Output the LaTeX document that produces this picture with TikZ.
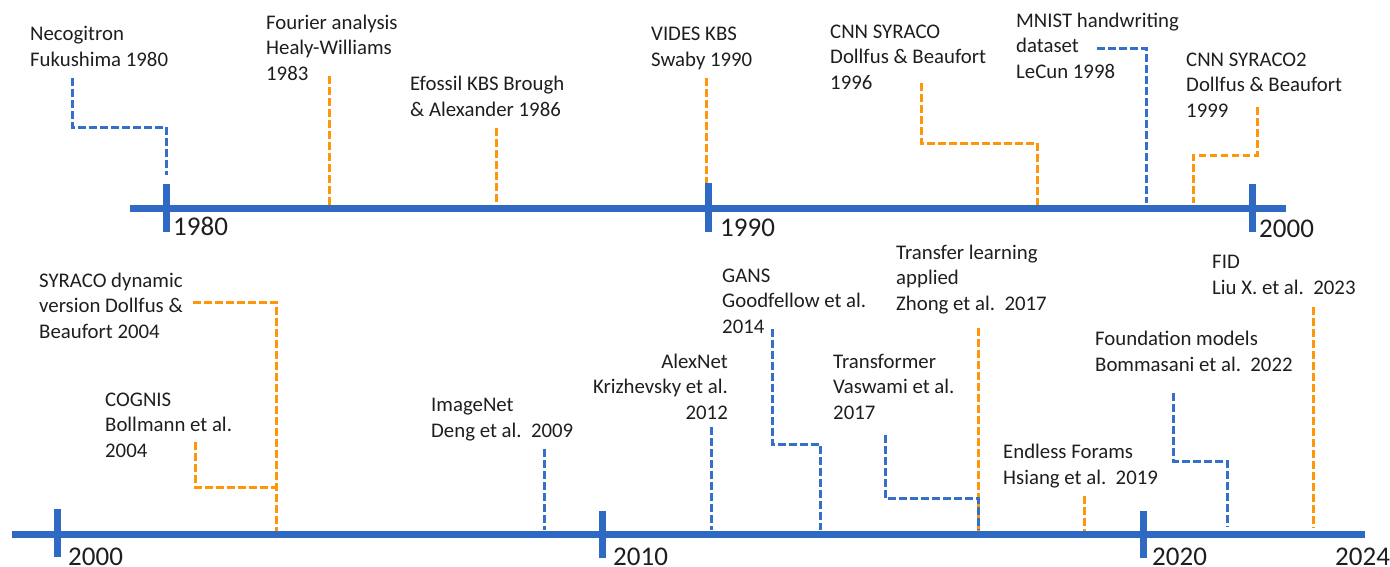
\documentclass[tikz,border=0pt]{standalone}
\usepackage{fontspec}
\setmainfont{Carlito}
\definecolor{axisblue}{RGB}{46,106,196}
\definecolor{evblue}{RGB}{52,112,202}
\definecolor{evorange}{RGB}{255,150,10}
\definecolor{ink}{RGB}{30,30,30}

\begin{document}
\begin{tikzpicture}[x=1pt,y=-1pt,
  axis/.style={line width=7pt, axisblue},
  yeartick/.style={line width=7pt, axisblue},
  bluelink/.style={evblue, line width=3pt, dash pattern=on 7.5pt off 3.5pt},
  orangelink/.style={evorange, line width=3pt, dash pattern=on 7.5pt off 3.5pt},
  % multi-line labels are placed by the baseline of their last line
  event/.style={anchor=base west, align=left, inner sep=0pt, text=ink,
    font=\fontsize{20.8}{25.5}\selectfont},
  eventr/.style={event, anchor=base east, align=right},
  year/.style={anchor=base west, inner sep=0pt, text=ink,
    font=\fontsize{27}{30}\selectfont}]
\useasboundingbox (0,0) rectangle (1390,566);

% ---------------- 1980 -- 2000 ----------------
\coordinate (a1s) at (130,208);
\coordinate (a1e) at (1286,208);
\coordinate (t80a) at (166,184);  \coordinate (t80b) at (166,232);
\coordinate (t90a) at (708,183);  \coordinate (t90b) at (708,232);
\coordinate (t00a) at (1252,184); \coordinate (t00b) at (1252,232);

\node[event] (neco) at (30,66) {Necogitron\\Fukushima 1980};
\node[event] (fourier) at (266,80) {Fourier analysis\\Healy-Williams\\1983};
\node[event] (efossil) at (410,116) {Efossil KBS Brough\\\& Alexander 1986};
\node[event] (vides) at (651,66) {VIDES KBS\\Swaby 1990};
\node[event] (syraco) at (830,89) {CNN SYRACO\\Dollfus \& Beaufort\\1996};
\node[event] (mnist) at (1016,78) {MNIST handwriting\\dataset\\LeCun 1998};
\node[event] (syraco2) at (1186,117) {CNN SYRACO2\\Dollfus \& Beaufort\\1999};

\coordinate (neco1) at (72,78);   \coordinate (neco2) at (166,127);  \coordinate (neco3) at (166,175);
\coordinate (four1) at (329,76);  \coordinate (four2) at (329,208);
\coordinate (efo1) at (496,128);  \coordinate (efo2) at (496,208);
\coordinate (vid1) at (706,78);   \coordinate (vid2) at (706,183);
\coordinate (syr1) at (921,83);   \coordinate (syr2) at (1037,143);  \coordinate (syr3) at (1037,208);
\coordinate (mni1) at (1097,48);  \coordinate (mni2) at (1146,48);   \coordinate (mni3) at (1146,203);
\coordinate (sy21) at (1257,107); \coordinate (sy22) at (1193,155);  \coordinate (sy23) at (1193,203);

\draw[bluelink] (neco1) |- (neco2) -- (neco3);
\draw[orangelink] (four1) -- (four2);
\draw[orangelink] (efo1) -- (efo2);
\draw[orangelink] (vid1) -- (vid2);
\draw[orangelink] (syr1) |- (syr2) -- (syr3);
\draw[bluelink] (mni1) -- (mni2) -- (mni3);
\draw[orangelink] (sy21) |- (sy22) -- (sy23);

\draw[axis] (a1s) -- (a1e);
\draw[yeartick] (t80a) -- (t80b);
\draw[yeartick] (t90a) -- (t90b);
\draw[yeartick] (t00a) -- (t00b);
\node[year] (y1980) at (173,235) {1980};
\node[year] (y1990) at (720,236) {1990};
\node[year] (y2000a) at (1259,237) {2000};

% ---------------- 2000 -- 2024 ----------------
\coordinate (a2s) at (12,534);
\coordinate (a2e) at (1365,534);
\coordinate (u00a) at (57,509);   \coordinate (u00b) at (57,557);
\coordinate (u10a) at (602,511);  \coordinate (u10b) at (602,558);
\coordinate (u20a) at (1143,511); \coordinate (u20b) at (1143,558);

\node[event] (dynamic) at (39,338) {SYRACO dynamic\\version Dollfus \&\\Beaufort 2004};
\node[event] (cognis) at (105,457) {COGNIS\\Bollmann et al.\\2004};
\node[event] (imagenet) at (431,437) {ImageNet\\Deng et al.\ \ 2009};
\node[eventr] (alexnet) at (728,419) {AlexNet\\Krizhevsky et al.\\2012};
\node[event] (gans) at (722,333) {GANS\\Goodfellow et al.\\2014};
\node[event] (transformer) at (833,419) {Transformer\\Vaswami et al.\\2017};
\node[event] (transfer) at (896,310) {Transfer learning\\applied\\Zhong et al.\ \ 2017};
\node[event] (endless) at (1003,484) {Endless Forams\\Hsiang et al.\ \ 2019};
\node[event] (foundation) at (1095,371) {Foundation models\\Bommasani et al.\ \ 2022};
\node[event] (fid) at (1212,294) {FID\\Liu X. et al.\ \ 2023};

\coordinate (dyn1) at (193,302);  \coordinate (dyn2) at (276,302);  \coordinate (dyn3) at (276,534);
\coordinate (cog1) at (195,442);  \coordinate (cog2) at (276,487);
\coordinate (img1) at (544,449);  \coordinate (img2) at (544,530);
\coordinate (alx1) at (711,427);  \coordinate (alx2) at (711,530);
\coordinate (gan1) at (772,329);  \coordinate (gan2) at (820,444);  \coordinate (gan3) at (820,530);
\coordinate (trf1) at (885,435);  \coordinate (trf2) at (978,498);  \coordinate (trf3) at (978,530);
\coordinate (tl1) at (978,328);   \coordinate (tl2) at (978,534);
\coordinate (end1) at (1084,496); \coordinate (end2) at (1084,532);
\coordinate (fnd1) at (1173,393); \coordinate (fnd2) at (1227,461); \coordinate (fnd3) at (1227,527);
\coordinate (fid1) at (1313,307); \coordinate (fid2) at (1313,528);

\draw[orangelink] (dyn1) -- (dyn2) -- (dyn3);
\draw[orangelink] (cog1) |- (cog2);
\draw[bluelink] (img1) -- (img2);
\draw[bluelink] (alx1) -- (alx2);
\draw[bluelink] (gan1) |- (gan2) -- (gan3);
\draw[orangelink] (tl1) -- (tl2);
\draw[bluelink] (trf1) |- (trf2) -- (trf3);
\draw[orangelink] (end1) -- (end2);
\draw[bluelink] (fnd1) |- (fnd2) -- (fnd3);
\draw[orangelink] (fid1) -- (fid2);

\draw[axis] (a2s) -- (a2e);
\draw[yeartick] (u00a) -- (u00b);
\draw[yeartick] (u10a) -- (u10b);
\draw[yeartick] (u20a) -- (u20b);
\node[year] (y2000b) at (68,565) {2000};
\node[year] (y2010) at (613,565) {2010};
\node[year] (y2020) at (1152,565) {2020};
\node[year] (y2024) at (1335,565) {2024};
\end{tikzpicture}
\end{document}
